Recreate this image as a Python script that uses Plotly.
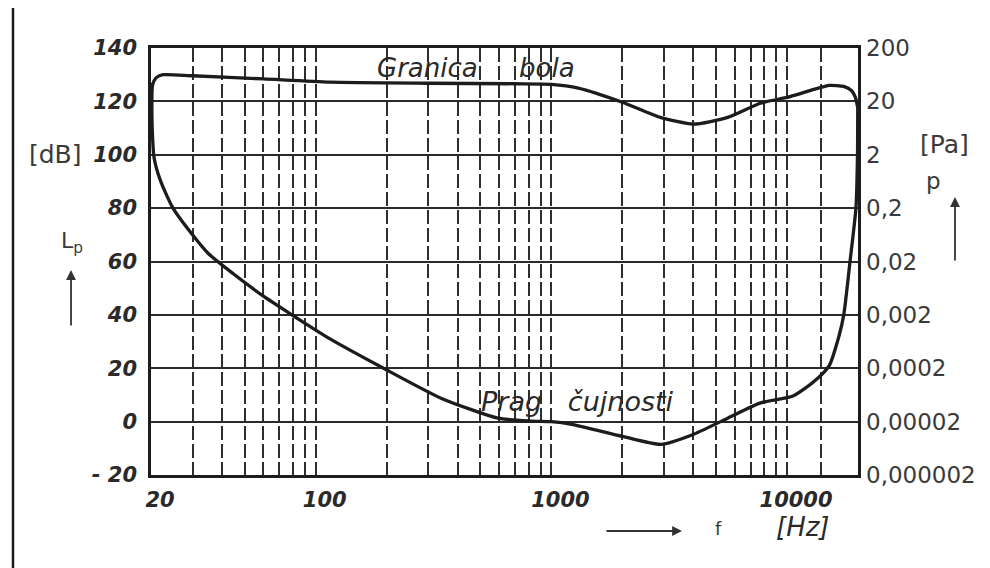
import plotly.graph_objects as go

# ---- data ----
# Threshold of pain ("Granica bola")
f_pain = [20.1, 20.3, 21, 22.5, 30, 60, 115, 300, 700, 1000, 1300, 2000, 2900, 4000,
          5600, 7700, 10300, 13000, 15100, 17400, 18800, 19500, 19900]
L_pain = [112, 126, 128.8, 130, 129.6, 128.4, 127.2, 126.8, 126.6, 126.4, 125, 119.7, 114, 111.5,
          114, 119.3, 121.8, 124.5, 126, 125.6, 124, 121.5, 118]

# Threshold of hearing ("Prag čujnosti")
f_hear = [20.1, 20.2, 20.6, 22, 24.8, 30, 35, 44.7, 60, 78, 115, 194, 340, 593, 817, 1000,
          1220, 2000, 2920, 4020, 5600, 7720, 10600, 13000, 15100, 16600, 17400, 18500, 19600, 19900, 19950]
L_hear = [127, 112, 99, 90, 80, 70, 63, 55.4, 47, 40.4, 31, 20, 8.8, 1.3, 0.2, 0,
          -1, -5.5, -8.5, -4.7, 1.3, 7, 9.6, 15, 21, 32, 40, 60, 80, 100, 119]

# axis ticks
db_ticks = [140, 120, 100, 80, 60, 40, 20, 0, -20]
db_text = ["140", "120", "100", "80", "60", "40", "20", "0", "- 20"]
pa_text = ["200", "20", "2", "0,2", "0,02", "0,002", "0,0002", "0,00002", "0,000002"]
f_grid = [20, 30, 40, 50, 60, 70, 80, 90,
          100, 200, 300, 400, 500, 600, 700, 800, 900,
          1000, 2000, 3000, 4000, 5000, 6000, 7000, 8000, 9000,
          10000, 14000, 20000]
f_labels = {20: "20", 100: "100", 1000: "1000", 10000: "10000"}
f_text = [f_labels.get(v, "") for v in f_grid]

INK = "#1c1c1c"
FONT = "DejaVu Sans"

# the page body has an 8px margin: work in reference-pixel coordinates
OFF = 8
W, H = 990 - OFF, 568 - OFF
L0, R0, T0, B0 = 151 - OFF, 858 - OFF, 48 - OFF, 475 - OFF


def px(x):
    return (x - OFF - L0) / (R0 - L0)


def py(y):
    return (B0 - (y - OFF)) / (B0 - T0)


fig = go.Figure()
fig.add_trace(go.Scatter(x=f_pain, y=L_pain, mode="lines",
                         line=dict(color=INK, width=3.3, shape="spline", smoothing=0.6),
                         showlegend=False, hoverinfo="skip"))
fig.add_trace(go.Scatter(x=f_hear, y=L_hear, mode="lines",
                         line=dict(color=INK, width=3.3, shape="spline", smoothing=0.6),
                         showlegend=False, hoverinfo="skip"))
# invisible trace to activate right axis
fig.add_trace(go.Scatter(x=[100], y=[0], yaxis="y2", mode="markers",
                         marker=dict(opacity=0), showlegend=False, hoverinfo="skip"))

fig.update_layout(
    width=W, height=H,
    margin=dict(l=L0, r=W - R0, t=T0, b=H - B0, autoexpand=False),
    paper_bgcolor="white", plot_bgcolor="white",
    font=dict(family=FONT, color=INK),
    xaxis=dict(type="log", range=[1.30103, 4.30103], automargin=False,
               tickmode="array", tickvals=f_grid, ticktext=f_text,
               showgrid=True, gridcolor="#2e2e2e", gridwidth=1.6, griddash="14px,4px",
               showline=True, linecolor=INK, linewidth=2.5, mirror=True,
               ticks="", ticklabelshift=9, ticklabelstandoff=4,
               tickfont=dict(family=FONT, size=21, style="italic", weight="bold", color="#2a2a2a"),
               zeroline=False),
    yaxis=dict(range=[-20, 140], tickmode="array", tickvals=db_ticks, ticktext=db_text,
               automargin=False,
               showgrid=True, gridcolor="#2a2a2a", gridwidth=2,
               showline=True, linecolor=INK, linewidth=2.5, mirror=True,
               ticks="", ticklabelstandoff=7, zeroline=False,
               tickfont=dict(family=FONT, size=21, style="italic", weight="bold", color="#2a2a2a")),
    yaxis2=dict(range=[-20, 140], overlaying="y", side="right", tickmode="array",
                automargin=False,
                tickvals=db_ticks, ticktext=pa_text, showgrid=False, zeroline=False,
                ticks="", ticklabelstandoff=7, showline=False,
                tickfont=dict(family=FONT, size=23, color="#3a3a3a")),
)


def label(text, x, y, size, italic=False, color="#3a3a3a"):
    f = dict(family=FONT, size=size, color=color)
    if italic:
        f["style"] = "italic"
    return dict(text=text, x=px(x), y=py(y), xref="paper", yref="paper",
                xanchor="center", yanchor="middle", showarrow=False, font=f)


ann = [
    label("Granica     bola", 476, 68, 26, True, "#2a2a2a"),
    label("Prag   čujnosti", 577, 401, 27, True, "#2a2a2a"),
    label("[dB]", 55, 155, 25),
    label("L<sub>p</sub>", 72, 243, 22),
    label("[Pa]", 944, 144, 25),
    label("p", 933, 181, 23),
    label("f", 718, 528, 18),
    label("[Hz]", 803, 527, 26, True, "#2a2a2a"),
]
# arrows (head position in reference pixels, tail offset in pixels)
for hx, hy, axo, ayo in [(71, 270, 0, 57), (955, 197, 0, 65), (682, 531, -77, 0)]:
    ann.append(dict(text="", x=px(hx), y=py(hy), xref="paper", yref="paper",
                    showarrow=True, ax=axo, ay=ayo, arrowhead=2, arrowsize=1.1,
                    arrowwidth=1.8, arrowcolor="#333"))
fig.update_layout(annotations=ann)

# page border line on the left
fig.add_shape(type="line", xref="paper", yref="paper", x0=px(13), x1=px(13),
              y0=py(0), y1=py(568), line=dict(color=INK, width=2.5))

fig.write_html("out.html")
